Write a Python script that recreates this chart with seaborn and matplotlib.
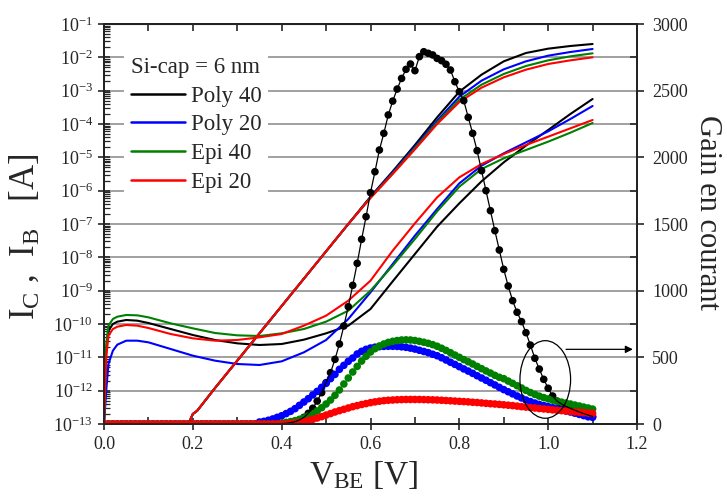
import numpy as np
import pandas as pd
import matplotlib
matplotlib.use("Agg")
import matplotlib.pyplot as plt
import seaborn as sns
from matplotlib.patches import Ellipse
from matplotlib.lines import Line2D
from matplotlib.ticker import (LogLocator, MultipleLocator, NullFormatter,
                               LogFormatterSciNotation, FormatStrFormatter)

# ---------------- data ----------------
labels = ["Poly 40", "Poly 20", "Epi 40", "Epi 20"]
colors = ["#000000", "#0000ff", "#008000", "#ff0000"]

# base current IB, log10(A)
V_ib = [0, 0.005, 0.01, 0.02, 0.03, 0.05, 0.075, 0.1, 0.15, 0.2, 0.25, 0.3, 0.35, 0.4,
        0.45, 0.5, 0.55, 0.6, 0.65, 0.7, 0.75, 0.8, 0.85, 0.9, 0.95, 1.0, 1.05, 1.1]
ib_poly40 = [-13, -10.8, -10.2, -10.0, -9.93, -9.88, -9.9, -9.97, -10.15, -10.33, -10.48, -10.58,
             -10.63, -10.6, -10.47, -10.28, -10.05, -9.55, -8.72, -7.9, -7.08, -6.38, -5.72,
             -5.15, -4.65, -4.18, -3.7, -3.25]
ib_poly20 = [-13, -12.0, -11.2, -10.8, -10.62, -10.5, -10.5, -10.55, -10.75, -10.95, -11.1, -11.2,
             -11.23, -11.12, -10.85, -10.48, -9.85, -9.05, -8.2, -7.35, -6.55, -5.78, -5.25,
             -4.88, -4.55, -4.22, -3.85, -3.46]
ib_epi40 = [-13, -10.6, -10.05, -9.85, -9.78, -9.73, -9.74, -9.8, -9.98, -10.13, -10.27, -10.34,
            -10.36, -10.28, -10.15, -9.93, -9.6, -9.0, -8.25, -7.45, -6.62, -5.88, -5.35,
            -5.03, -4.78, -4.53, -4.26, -3.97]
ib_epi20 = [-13, -11.0, -10.35, -10.15, -10.08, -10.03, -10.05, -10.12, -10.3, -10.43, -10.5, -10.48,
            -10.4, -10.3, -10.05, -9.75, -9.3, -8.7, -7.8, -6.98, -6.2, -5.6, -5.2,
            -4.9, -4.63, -4.38, -4.13, -3.88]

# collector current IC, log10(A)
V_ic = [0, 0.19, 0.2, 0.21, 0.25, 0.3, 0.35, 0.4, 0.45, 0.5, 0.55, 0.6,
        0.65, 0.7, 0.75, 0.8, 0.85, 0.9, 0.95, 1.0, 1.05, 1.1]
ic_poly40 = [-13, -13, -12.7, -12.6, -11.92, -11.1, -10.28, -9.46, -8.64, -7.82, -7.0, -6.18,
             -5.42, -4.63, -3.8, -3.03, -2.52, -2.12, -1.87, -1.74, -1.66, -1.6]
ic_poly20 = [-13, -13, -12.7, -12.6, -11.92, -11.1, -10.28, -9.46, -8.64, -7.82, -7.0, -6.2,
             -5.45, -4.68, -3.9, -3.18, -2.7, -2.36, -2.12, -1.95, -1.84, -1.75]
ic_epi40 = [-13, -13, -12.7, -12.6, -11.92, -11.1, -10.28, -9.46, -8.64, -7.82, -7.0, -6.21,
            -5.48, -4.72, -3.95, -3.27, -2.82, -2.5, -2.26, -2.09, -1.97, -1.88]
ic_epi20 = [-13, -13, -12.7, -12.6, -11.92, -11.1, -10.28, -9.46, -8.64, -7.82, -7.0, -6.22,
            -5.5, -4.76, -4.0, -3.34, -2.91, -2.6, -2.37, -2.2, -2.09, -2.0]

# current gain, sampled every 10 mV from 0.00 V to 1.10 V
V_gain = [round(0.01 * k, 2) for k in range(111)]
gain_poly40 = [0] * 40 + [
    3, 5, 10, 18, 30, 50, 80, 118, 172, 235,
    310, 385, 485, 600, 735, 880, 1040, 1205, 1385, 1555,
    1735, 1892, 2055, 2180, 2318, 2422, 2512, 2592, 2660, 2700,
    2650, 2755, 2792, 2780, 2768, 2742, 2725, 2698, 2655, 2567,
    2492, 2425, 2300, 2180, 2050, 1900, 1750, 1600, 1450, 1305,
    1160, 1035, 925, 838, 768, 685, 592, 493, 412, 335,
    268, 210, 172, 150, 132, 117, 103, 90, 78, 67, 57]
gain_poly20 = [0] * 35 + [
    15, 20, 28, 38, 50,
    62, 78, 95, 115, 140, 165, 190, 218, 245, 275,
    305, 340, 372, 410, 440, 470, 495, 525, 545, 560,
    570, 576, 580, 582, 583, 583, 582, 579, 575, 569,
    562, 553, 544, 535, 523, 512, 497, 480, 463, 447,
    430, 413, 397, 380, 362, 345, 328, 310, 293, 275,
    258, 242, 226, 210, 195, 180, 168, 157, 147, 138,
    130, 122, 114, 106, 98, 90, 81, 72, 63, 54, 50]
gain_epi40 = [0] * 40 + [
    8, 12, 18, 25, 35, 45, 60, 78, 98, 122,
    150, 180, 215, 255, 300, 345, 390, 432, 472, 508,
    540, 565, 585, 600, 612, 620, 626, 630, 631, 630,
    626, 620, 613, 605, 595, 583, 568, 552, 535, 517,
    500, 483, 467, 450, 432, 415, 398, 382, 365, 350,
    340, 322, 305, 287, 270, 252, 236, 222, 209, 198,
    188, 179, 171, 164, 157, 150, 142, 135, 127, 120, 112]
gain_epi20 = [0] * 42 + [
    5, 8, 12, 18, 25, 35, 45, 55,
    67, 78, 90, 100, 110, 120, 130, 138, 146, 153,
    160, 166, 171, 175, 178, 180, 182, 183, 184, 184,
    184, 184, 183, 182, 181, 180, 178, 176, 174, 172,
    170, 168, 166, 163, 161, 158, 155, 152, 150, 147,
    144, 141, 138, 134, 130, 127, 123, 120, 116, 113,
    110, 106, 103, 100, 97, 94, 91, 88, 85, 82, 79]

ib_all = [ib_poly40, ib_poly20, ib_epi40, ib_epi20]
ic_all = [ic_poly40, ic_poly20, ic_epi40, ic_epi20]
gain_all = [gain_poly40, gain_poly20, gain_epi40, gain_epi20]

# ---------------- style ----------------
sns.set_style("ticks")
plt.rcParams["font.family"] = ["Liberation Serif", "DejaVu Serif"]
plt.rcParams["mathtext.fontset"] = "custom"
plt.rcParams["mathtext.rm"] = "Liberation Serif"
plt.rcParams["mathtext.it"] = "Liberation Serif:italic"
plt.rcParams["mathtext.bf"] = "Liberation Serif:bold"

fig = plt.figure(figsize=(7.27, 4.96), dpi=100)
ax = fig.add_axes([104 / 727, 1 - 424 / 496, 533 / 727, 400 / 496])
ax.set_yscale("log")

# currents
for lab, col, ib, ic in zip(labels, colors, ib_all, ic_all):
    sns.lineplot(x=V_ib, y=np.power(10.0, ib), ax=ax, color=col, lw=1.5, sort=False)
    sns.lineplot(x=V_ic, y=np.power(10.0, ic), ax=ax, color=col, lw=1.5, sort=False)

ax.set_xlim(0, 1.2)
ax.set_ylim(1e-13, 1e-1)
ax.yaxis.set_major_locator(LogLocator(base=10, numticks=30))
ax.yaxis.set_minor_locator(LogLocator(base=10, subs=np.arange(2, 10), numticks=30))
ax.yaxis.set_major_formatter(LogFormatterSciNotation())
ax.yaxis.set_minor_formatter(NullFormatter())
ax.xaxis.set_major_locator(MultipleLocator(0.2))
ax.xaxis.set_minor_locator(MultipleLocator(0.1))
ax.xaxis.set_major_formatter(FormatStrFormatter("%.1f"))
ax.yaxis.grid(True, which="major", color="#a0a0a0", lw=1.4)
ax.set_axisbelow(True)

ax.tick_params(axis="x", which="major", direction="inout", length=9, width=1.2, labelsize=13, pad=4)
ax.tick_params(axis="x", which="minor", direction="in", length=5, width=1.2)
ax.tick_params(axis="y", which="major", direction="inout", length=9, width=1.2, labelsize=13)
ax.tick_params(axis="y", which="minor", direction="in", length=4, width=0.9)
for s in ax.spines.values():
    s.set_linewidth(1.3)
    s.set_color("black")

top = ax.secondary_xaxis("top")
top.xaxis.set_major_locator(MultipleLocator(0.1))
top.tick_params(direction="in", length=5, width=1.2, labeltop=False)
top.xaxis.set_major_formatter(NullFormatter())

ax.set_xlabel(r"V$_\mathrm{BE}$ [V]", fontsize=24)
ax.xaxis.set_label_coords(0.487, -0.088)
ax.set_ylabel(r"I$_\mathrm{C}$ ,  I$_\mathrm{B}$   [A]", fontsize=25)
ax.yaxis.set_label_coords(-0.117, 0.468)

# gain on right axis
ax2 = ax.twinx()
for lab, col, g in zip(labels, colors, gain_all):
    if col == "#000000":
        sns.lineplot(x=V_gain, y=g, ax=ax2, color=col, lw=0.9, sort=False)
for lab, col, g in zip(labels, colors, gain_all):
    sns.scatterplot(x=V_gain, y=g, ax=ax2, color=col, s=30, edgecolor="none", linewidth=0)
ax2.set_ylim(0, 3000)
ax2.yaxis.set_major_locator(MultipleLocator(500))
ax2.yaxis.set_minor_locator(MultipleLocator(250))
ax2.tick_params(axis="y", which="major", direction="out", length=5, width=1.2, labelsize=13, pad=6)
ax2.tick_params(axis="y", which="minor", direction="in", length=5, width=1.2)
ax2.set_ylabel("Gain en courant", fontsize=22, rotation=270)
ax2.yaxis.set_label_coords(1.16, 0.53)
for s in ax2.spines.values():
    s.set_linewidth(1.3)

# ellipse + arrow
ax2.add_patch(Ellipse((0.9935, 334), 0.114, 582, fill=False, edgecolor="black", lw=0.9))
ax2.annotate("", xy=(1.197, 560), xytext=(1.034, 560),
             arrowprops=dict(arrowstyle="-|>", color="black", lw=0.9, mutation_scale=11))

# legend
handles = [Line2D([], [], color=c, lw=1.8) for c in colors]
leg = ax.legend(handles, labels, title="Si-cap = 6 nm", loc="upper left",
                bbox_to_anchor=(0.016, 0.963), frameon=True, framealpha=1,
                edgecolor="none", facecolor="white", fontsize=16.5, title_fontsize=16.5,
                handlelength=2.35, handletextpad=0.26, labelspacing=0.33,
                borderpad=0.3, alignment="left")
leg.set_zorder(10)

fig.savefig("out.png", dpi=100)
